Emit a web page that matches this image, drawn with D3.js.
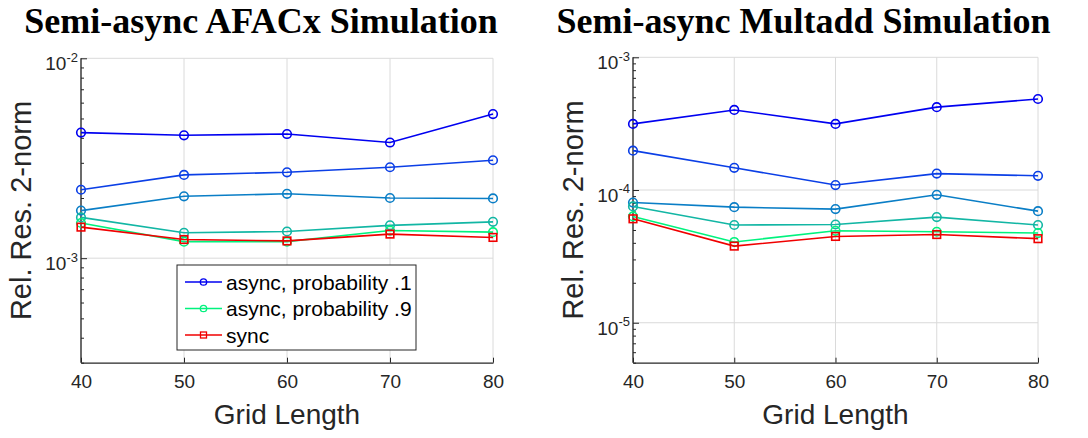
<!DOCTYPE html>
<html>
<head>
<meta charset="utf-8">
<script src="https://cdn.jsdelivr.net/npm/d3@7"></script>
<style>
  body { margin: 0; background: #fff; }
  svg { display: block; }
</style>
</head>
<body>
<div id="chart"></div>
<script>
// grid lengths on the x axis
const gridLengths = [40, 50, 60, 70, 80]
const probabilities = ['.1', '.3', '.5', '.7', '.9']
const seriesColors = ['#0000f0', '#0b3fe6', '#0a7ec6', '#12b6a4', '#00f27e']
const syncColor = '#f00000'

// AFACx panel, one row per probability
const afacxAsync = [
  [4.25e-3, 4.12e-3, 4.18e-3, 3.79e-3, 5.26e-3],
  [2.20e-3, 2.61e-3, 2.69e-3, 2.85e-3, 3.09e-3],
  [1.73e-3, 2.04e-3, 2.10e-3, 2.00e-3, 1.99e-3],
  [1.60e-3, 1.34e-3, 1.36e-3, 1.46e-3, 1.52e-3],
  [1.50e-3, 1.21e-3, 1.21e-3, 1.375e-3, 1.35e-3]
]
const afacxSync = [1.43e-3, 1.24e-3, 1.22e-3, 1.32e-3, 1.27e-3]

// Multadd panel
const multaddAsync = [
  [3.15e-4, 4.01e-4, 3.15e-4, 4.21e-4, 4.85e-4],
  [1.98e-4, 1.47e-4, 1.09e-4, 1.33e-4, 1.28e-4],
  [8.05e-5, 7.43e-5, 7.18e-5, 9.2e-5, 6.93e-5],
  [7.52e-5, 5.45e-5, 5.5e-5, 6.25e-5, 5.45e-5],
  [6.32e-5, 4.06e-5, 4.93e-5, 4.85e-5, 4.74e-5]
]
const multaddSync = [6.07e-5, 3.78e-5, 4.47e-5, 4.62e-5, 4.30e-5]

const width = 1088
const height = 438
const axisColor = '#262626'
const sans = '"Liberation Sans", Arial, sans-serif'

const svg = d3.select('#chart')
  .append('svg')
  .attr('width', width)
  .attr('height', height)

const drawPanel = (opt) => {
  const { left, right, top, bottom, yDomain, title, titleX, ylabelX, asyncData, syncData, legend } = opt

  const x = d3.scaleLinear().domain([40, 80]).range([left, right])
  const y = d3.scaleLog().domain(yDomain).range([bottom, top])

  const g = svg.append('g')

  // decades and minor ticks
  const lo = Math.floor(Math.log10(yDomain[0]))
  const hi = Math.round(Math.log10(yDomain[1]))
  const decades = d3.range(lo, hi + 1).map(e => Math.pow(10, e)).filter(v => v >= yDomain[0] * 0.999)
  const minors = []
  for (let e = lo; e < hi; e++) {
    for (let m = 2; m <= 9; m++) {
      const v = m * Math.pow(10, e)
      if (v >= yDomain[0] * 0.999 && v <= yDomain[1]) minors.push(v)
    }
  }

  // grid
  g.append('g')
    .selectAll('line')
    .data(gridLengths)
    .join('line')
    .attr('x1', d => x(d)).attr('x2', d => x(d))
    .attr('y1', top).attr('y2', bottom)
    .attr('stroke', '#dadada').attr('stroke-width', 1)
  g.append('g')
    .selectAll('line')
    .data(decades)
    .join('line')
    .attr('x1', left).attr('x2', right)
    .attr('y1', d => y(d)).attr('y2', d => y(d))
    .attr('stroke', '#dadada').attr('stroke-width', 1)

  // x axis, ticks pointing inward
  const xAxis = d3.axisBottom(x).tickValues(gridLengths).tickSizeInner(-5).tickSizeOuter(0).tickPadding(12)
  g.append('g')
    .attr('transform', `translate(0, ${bottom})`)
    .call(xAxis)
    .call(a => a.select('.domain').attr('stroke', axisColor).attr('stroke-width', 1.3))
    .call(a => a.selectAll('.tick line').attr('stroke', axisColor))
    .call(a => a.selectAll('.tick text')
      .attr('fill', axisColor)
      .style('font-family', sans)
      .style('font-size', '19px'))

  // y axis with minor ticks
  const yMinor = d3.axisLeft(y).tickValues(minors).tickSizeInner(-3).tickSizeOuter(0).tickFormat('')
  g.append('g')
    .attr('transform', `translate(${left}, 0)`)
    .call(yMinor)
    .call(a => a.select('.domain').remove())
    .call(a => a.selectAll('.tick line').attr('stroke', axisColor))

  const yAxis = d3.axisLeft(y).tickValues(decades).tickSizeInner(-6).tickSizeOuter(0).tickPadding(3).tickFormat('')
  g.append('g')
    .attr('transform', `translate(${left}, 0)`)
    .call(yAxis)
    .call(a => a.select('.domain').attr('stroke', axisColor).attr('stroke-width', 1.3)
      .attr('d', `M0,${top}V${bottom}`))
    .call(a => a.selectAll('.tick line').attr('stroke', axisColor))
    .call(a => a.selectAll('.tick text')
      .attr('fill', axisColor)
      .attr('dy', '0.6em')
      .style('font-family', sans)
      .style('font-size', '19px')
      .each(function (d) {
        const t = d3.select(this)
        t.append('tspan').text('10')
        t.append('tspan')
          .attr('dy', '-0.65em')
          .style('font-size', '13px')
          .text('-' + Math.abs(Math.round(Math.log10(d))))
      }))

  // series
  const line = d3.line().x((d, i) => x(gridLengths[i])).y(d => y(d))
  asyncData.forEach((vals, k) => {
    const s = g.append('g')
    s.append('path')
      .datum(vals)
      .attr('d', line)
      .attr('fill', 'none')
      .attr('stroke', seriesColors[k])
      .attr('stroke-width', 1.6)
    s.selectAll('circle')
      .data(vals)
      .join('circle')
      .attr('cx', (d, i) => x(gridLengths[i]))
      .attr('cy', d => y(d))
      .attr('r', 4.3)
      .attr('fill', 'none')
      .attr('stroke', seriesColors[k])
      .attr('stroke-width', 1.6)
  })
  const sg = g.append('g')
  sg.append('path')
    .datum(syncData)
    .attr('d', line)
    .attr('fill', 'none')
    .attr('stroke', syncColor)
    .attr('stroke-width', 1.6)
  sg.selectAll('rect')
    .data(syncData)
    .join('rect')
    .attr('x', (d, i) => x(gridLengths[i]) - 3.8)
    .attr('y', d => y(d) - 3.8)
    .attr('width', 7.6).attr('height', 7.6)
    .attr('fill', 'none')
    .attr('stroke', syncColor)
    .attr('stroke-width', 1.6)

  // titles and labels
  svg.append('text')
    .attr('x', titleX).attr('y', 33)
    .attr('text-anchor', 'middle')
    .style('font-family', '"Liberation Serif", "Times New Roman", serif')
    .style('font-weight', 'bold')
    .style('font-size', '36px')
    .attr('fill', '#000')
    .text(title)

  svg.append('text')
    .attr('transform', `translate(${ylabelX}, ${(top + bottom) / 2}) rotate(-90)`)
    .attr('text-anchor', 'middle')
    .style('font-family', sans)
    .style('font-size', '29px')
    .attr('fill', axisColor)
    .text('Rel. Res. 2-norm')

  svg.append('text')
    .attr('x', (left + right) / 2).attr('y', 424)
    .attr('text-anchor', 'middle')
    .style('font-family', sans)
    .style('font-size', '28px')
    .attr('fill', axisColor)
    .text('Grid Length')

  if (legend) {
    const items = [
      { label: 'async, probability .1', color: seriesColors[0], shape: 'circle' },
      { label: 'async, probability .9', color: seriesColors[4], shape: 'circle' },
      { label: 'sync', color: syncColor, shape: 'square' }
    ]
    const lg = svg.append('g').attr('transform', `translate(${legend.x}, ${legend.y})`)
    lg.append('rect')
      .attr('width', legend.w).attr('height', legend.h)
      .attr('fill', '#fff')
      .attr('stroke', axisColor).attr('stroke-width', 1)
    const rows = lg.selectAll('g.item')
      .data(items)
      .join('g')
      .attr('class', 'item')
      .attr('transform', (d, i) => `translate(0, ${17 + i * 26.5})`)
    rows.append('line')
      .attr('x1', 8).attr('x2', 45)
      .attr('stroke', d => d.color).attr('stroke-width', 1.3)
    rows.filter(d => d.shape === 'circle').append('circle')
      .attr('cx', 26.5).attr('r', 3.2)
      .attr('fill', 'none').attr('stroke', d => d.color).attr('stroke-width', 1.3)
    rows.filter(d => d.shape === 'square').append('rect')
      .attr('x', 23.5).attr('y', -3).attr('width', 6).attr('height', 6)
      .attr('fill', 'none').attr('stroke', d => d.color).attr('stroke-width', 1.3)
    rows.append('text')
      .attr('x', 49).attr('dy', '0.36em')
      .style('font-family', sans)
      .style('font-size', '21px')
      .attr('fill', '#000')
      .text(d => d.label)
  }
}

drawPanel({
  left: 81, right: 493, top: 58.3, bottom: 362.7,
  yDomain: [3e-4, 1e-2],
  title: 'Semi-async AFACx Simulation', titleX: 261, ylabelX: 31,
  asyncData: afacxAsync, syncData: afacxSync,
  legend: { x: 177, y: 265, w: 239, h: 85 }
})

drawPanel({
  left: 633, right: 1038, top: 57.3, bottom: 362.7,
  yDomain: [5e-6, 1e-3],
  title: 'Semi-async Multadd Simulation', titleX: 803.5, ylabelX: 583,
  asyncData: multaddAsync, syncData: multaddSync,
  legend: null
})
</script>
</body>
</html>
